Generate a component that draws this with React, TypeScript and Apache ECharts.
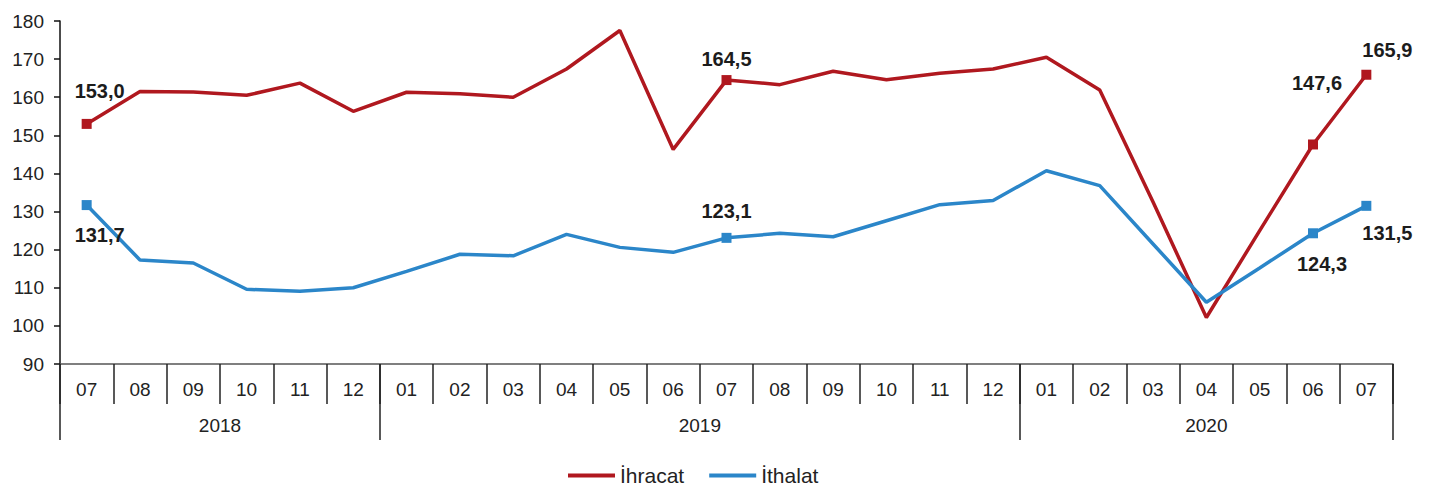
import React, { useEffect, useRef } from "react";
import * as echarts from "echarts";

const months = ["07","08","09","10","11","12","01","02","03","04","05","06","07","08","09","10","11","12","01","02","03","04","05","06","07"];
const years = ["2018", "2019", "2020"];
const yearSpans = [6, 12, 7];
const ihracat = [153.0,161.5,161.4,160.5,163.7,156.3,161.3,160.9,160.0,167.4,177.5,146.3,164.5,163.3,166.8,164.6,166.3,167.4,170.5,161.9,132.5,102.2,125.0,147.6,165.9];
const ithalat = [131.7,117.3,116.5,109.6,109.1,110.0,114.3,118.8,118.4,124.0,120.6,119.3,123.1,124.3,123.4,127.6,131.8,132.9,140.7,136.8,121.5,106.2,115.2,124.3,131.5];
const ihracatLabels: Record<number, [number, number]> = { 0: [13, -33], 12: [0, -21], 23: [4, -61], 24: [21, -25] };
const ithalatLabels: Record<number, [number, number]> = { 0: [13, 30], 12: [0, -27], 23: [9, 31], 24: [21, 27] };

const RED = "#B0181F";
const BLUE = "#2B86C9";
const FONT = "Arial, 'Liberation Sans', sans-serif";

function buildData(vals: number[], labels: Record<number, [number, number]>) {
  return vals.map((v, i) => {
    const off = labels[i];
    if (!off) return { value: v, symbol: "none" };
    return {
      value: v,
      symbol: "rect",
      symbolSize: 10,
      label: {
        show: true,
        position: "inside",
        offset: off,
        formatter: v.toFixed(1).replace(".", ","),
        fontFamily: FONT,
        fontWeight: "bold",
        fontSize: 20,
        color: "#1c1c1c",
      },
    };
  });
}

// half-band positions for the year axis (boundaryGap false, 51 points)
const halfCats: string[] = [];
for (let k = 0; k <= months.length * 2; k++) halfCats.push(String(k));
const yearBoundaries: number[] = [0];
const yearCenters: Record<number, string> = {};
{
  let acc = 0;
  yearSpans.forEach((s, i) => {
    yearCenters[acc * 2 + s] = years[i];
    acc += s;
    yearBoundaries.push(acc * 2);
  });
}

export default function App() {
  const ref = useRef<HTMLDivElement>(null);
  useEffect(() => {
    if (!ref.current) return;
    const chart = echarts.init(ref.current, undefined, { renderer: "svg" });
    chart.setOption({
      animation: false,
      backgroundColor: "#ffffff",
      grid: { left: 60, right: 42, top: 21, bottom: 133, containLabel: false },
      legend: {
        bottom: 6,
        left: 563,
        itemWidth: 47,
        itemHeight: 4,
        itemGap: 25,
        icon: "rect",
        textStyle: { fontFamily: FONT, fontSize: 21, color: "#222" },
        data: ["İhracat", "İthalat"],
      },
      xAxis: [
        {
          type: "category",
          data: months,
          boundaryGap: true,
          axisLine: { show: true, lineStyle: { color: "#555", width: 1.5 } },
          axisTick: { show: true, interval: 0, length: 40, lineStyle: { color: "#222", width: 1.5 } },
          axisLabel: { interval: 0, margin: 16, fontFamily: FONT, fontSize: 19, color: "#222" },
        },
        {
          type: "category",
          data: halfCats,
          boundaryGap: false,
          position: "bottom",
          axisLine: { show: false },
          axisTick: {
            show: true,
            length: 76,
            interval: (idx: number) => yearBoundaries.indexOf(idx) >= 0,
            lineStyle: { color: "#222", width: 1.5 },
          },
          axisLabel: {
            margin: 52,
            interval: (idx: number) => yearCenters[idx] !== undefined,
            formatter: (_v: string, idx: number) => yearCenters[idx] || "",
            fontFamily: FONT,
            fontSize: 19,
            color: "#222",
          },
        },
      ],
      yAxis: {
        type: "value",
        min: 90,
        max: 180,
        interval: 10,
        axisLine: { show: true, lineStyle: { color: "#111", width: 1.5 } },
        axisTick: { show: true, length: 6, lineStyle: { color: "#111", width: 1.5 } },
        splitLine: { show: false },
        axisLabel: { margin: 16, fontFamily: FONT, fontSize: 19, color: "#222" },
      },
      series: [
        {
          name: "İhracat",
          type: "line",
          xAxisIndex: 0,
          data: buildData(ihracat, ihracatLabels),
          showAllSymbol: true,
          symbol: "rect",
          symbolSize: 10,
          lineStyle: { color: RED, width: 3.5 },
          itemStyle: { color: RED },
          z: 3,
        },
        {
          name: "İthalat",
          type: "line",
          xAxisIndex: 0,
          data: buildData(ithalat, ithalatLabels),
          showAllSymbol: true,
          symbol: "rect",
          symbolSize: 10,
          lineStyle: { color: BLUE, width: 3.5 },
          itemStyle: { color: BLUE },
          z: 4,
        },
      ],
    });
    return () => chart.dispose();
  }, []);
  return (
    <div
      ref={ref}
      style={{ position: "fixed", left: 0, top: 0, width: 1435, height: 497, background: "#fff" }}
    />
  );
}
